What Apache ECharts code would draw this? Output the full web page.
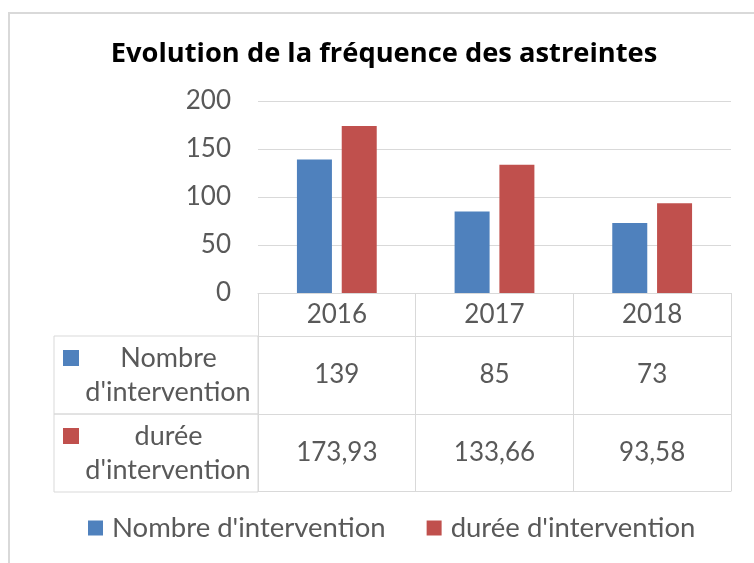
<!DOCTYPE html>
<html>
<head>
<meta charset="utf-8">
<script src="https://cdn.jsdelivr.net/npm/echarts@6/dist/echarts.min.js"></script>
<style>
html, body {margin: 0; padding: 0; background: #fff}
#chart {width: 754px; height: 563px}
</style>
</head>
<body>
<div id="chart"></div>
<script type="text/javascript">
var years = ['2016', '2017', '2018'];
var nombre = [139, 85, 73];
var duree = [173.93, 133.66, 93.58];
var nomNombre = "Nombre d'intervention";
var nomDuree = "durée d'intervention";

var bleu = '#4f81bd';
var rouge = '#c0504d';
var gris = '#595959';
var trait = '#d9d9d9';
var police = 'Lato';

function fr(v) {
    return String(v).replace('.', ',');
}

var chart = echarts.init(document.getElementById('chart'));

// cellule de gauche du tableau de données (carré + libellé sur deux lignes)
function entete(couleur) {
    var txt = {fontFamily: police, fontSize: 27, color: gris, lineHeight: 34, align: 'center'};
    return {
        fontFamily: police,
        fontSize: 27,
        color: gris,
        align: 'right',
        verticalAlign: 'top',
        padding: [5, 0, 5, 9],
        borderColor: trait,
        borderWidth: 1,
        rich: {
            m: {width: 16, height: 16, backgroundColor: couleur, align: 'left', lineHeight: 34},
            s: {width: 15, height: 10, align: 'left', lineHeight: 34},
            a: Object.assign({width: 179}, txt),
            b: Object.assign({width: 180}, txt)
        }
    };
}

var ligneAxe = {show: true, lineStyle: {color: trait, width: 1}};

option = {
    animation: false,
    title: {
        text: 'Evolution de la fréquence des astreintes',
        left: 379,
        top: 34,
        textAlign: 'center',
        textStyle: {fontFamily: 'Open Sans', fontSize: 27.3, fontWeight: 'bold', color: '#000', lineHeight: 30}
    },
    legend: {
        left: 88,
        top: 513,
        padding: 0,
        itemWidth: 15,
        itemHeight: 15,
        itemGap: 41,
        icon: 'rect',
        data: [nomNombre, nomDuree],
        textStyle: {fontFamily: police, fontSize: 27.5, color: gris, lineHeight: 30, padding: [0, 0, 0, 4]}
    },
    graphic: [{
        type: 'rect',
        silent: true,
        shape: {x: 9, y: 13, width: 800, height: 600},
        style: {fill: 'none', stroke: trait, lineWidth: 2}
    }],
    grid: {
        left: 258,
        right: 23,
        top: 101,
        bottom: 270,
        containLabel: false,
        outerBoundsMode: 'none'
    },
    yAxis: {
        type: 'value',
        min: 0,
        max: 200,
        interval: 50,
        axisLine: {show: false},
        axisTick: {show: false},
        axisLabel: {fontFamily: police, fontSize: 26, color: gris, margin: 27},
        splitLine: {lineStyle: {color: trait, width: 1}}
    },
    xAxis: [{
        type: 'category',
        data: years,
        position: 'bottom',
        axisLine: ligneAxe,
        axisTick: {show: true, interval: 0, length: 43, lineStyle: {color: trait}},
        axisLabel: {fontFamily: police, fontSize: 26, color: gris, margin: 21.5, verticalAlign: 'middle', interval: 0}
    }, {
        type: 'category',
        data: years,
        position: 'bottom',
        offset: 43,
        name: '{m|}{a|Nombre}\n{s|}{b|d\'intervention}',
        nameLocation: 'start',
        nameGap: 0,
        nameTextStyle: entete(bleu),
        axisLine: ligneAxe,
        axisTick: {show: true, interval: 0, length: 78, lineStyle: {color: trait}},
        axisLabel: {
            fontFamily: police, fontSize: 26, color: gris, margin: 39, verticalAlign: 'middle', interval: 0,
            formatter: function (v, i) { return fr(nombre[i]); }
        }
    }, {
        type: 'category',
        data: years,
        position: 'bottom',
        offset: 121,
        name: '{m|}{a|durée}\n{s|}{b|d\'intervention}',
        nameLocation: 'start',
        nameGap: 0,
        nameTextStyle: entete(rouge),
        axisLine: ligneAxe,
        axisTick: {show: true, interval: 0, length: 77, lineStyle: {color: trait}},
        axisLabel: {
            fontFamily: police, fontSize: 26, color: gris, margin: 38.5, verticalAlign: 'middle', interval: 0,
            formatter: function (v, i) { return fr(duree[i]); }
        }
    }, {
        type: 'category',
        data: years,
        position: 'bottom',
        offset: 198,
        axisLine: ligneAxe,
        axisTick: {show: false},
        axisLabel: {show: false}
    }],
    series: [
        {
            name: nomNombre,
            type: 'bar',
            xAxisIndex: 0,
            barWidth: 35,
            barGap: '28%',
            itemStyle: {color: bleu},
            data: nombre
        },
        {
            name: nomDuree,
            type: 'bar',
            xAxisIndex: 0,
            barWidth: 35,
            barGap: '28%',
            itemStyle: {color: rouge},
            data: duree
        }
    ]
};

if (option && typeof option === "object") {
    chart.setOption(option, true);
}
</script>
</body>
</html>
